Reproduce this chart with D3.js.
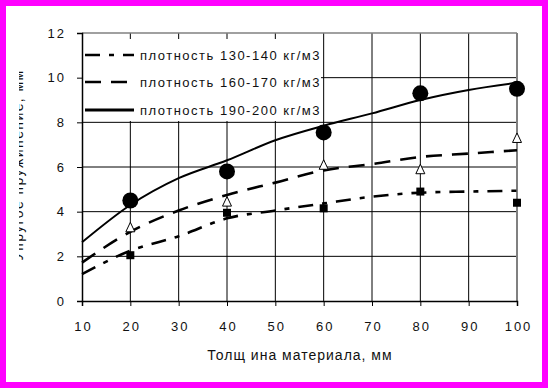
<!DOCTYPE html>
<html>
<head>
<meta charset="utf-8">
<script src="https://cdn.jsdelivr.net/npm/d3@7"></script>
<style>
  body { margin: 0; background: #ff00ff; }
  text { font-family: "Liberation Sans", Arial, sans-serif; fill: #111; }
</style>
</head>
<body>
<svg id="chart" width="548" height="388"></svg>
<script>
// values
var xTicks = [10, 20, 30, 40, 50, 60, 70, 80, 90, 100];
var yTicks = [0, 2, 4, 6, 8, 10, 12];
var pointX = [20, 40, 60, 80, 100];
var pts130 = [2.05, 3.95, 4.15, 4.9, 4.4];
var pts160 = [3.3, 4.45, 6.1, 5.9, 7.3];
var pts190 = [4.5, 5.8, 7.55, 9.3, 9.5];
var curveX = [10, 20, 30, 40, 50, 60, 70, 80, 90, 100];
var fit130 = [1.2, 2.25, 2.9, 3.7, 4.05, 4.37, 4.67, 4.85, 4.9, 4.94];
var fit160 = [1.72, 3.1, 4.05, 4.75, 5.3, 5.85, 6.13, 6.45, 6.6, 6.75];
var fit190 = [2.63, 4.3, 5.5, 6.3, 7.2, 7.85, 8.4, 9.0, 9.45, 9.77];
var legendLabels = ["плотность 130-140 кг/м3", "плотность 160-170 кг/м3", "плотность 190-200 кг/м3"];
var xTitle = "Толщ ина материала, мм";
var yTitle = "Упругое пружинение, мм";

var svg = d3.select("#chart");
var plotL = 82, plotR = 517, plotT = 33, plotB = 301;

svg.append("rect").attr("x", 6).attr("y", 6).attr("width", 536).attr("height", 376).attr("fill", "#fff");

var x = d3.scaleLinear().domain([10, 100]).range([plotL, plotR]);
var y = d3.scaleLinear().domain([0, 12]).range([plotB, plotT]);

// grid
var grid = svg.append("g");
grid.selectAll(".vg").data(xTicks.slice(1, -1)).enter().append("line")
  .attr("x1", function(d) { return x(d); }).attr("x2", function(d) { return x(d); })
  .attr("y1", plotT).attr("y2", plotB).attr("stroke", "#000").attr("stroke-width", 1);
grid.selectAll(".hg").data(yTicks.slice(1, -1)).enter().append("line")
  .attr("x1", plotL).attr("x2", plotR)
  .attr("y1", function(d) { return y(d); }).attr("y2", function(d) { return y(d); })
  .attr("stroke", "#000").attr("stroke-width", 1);

// legend background hides the grid
svg.append("rect").attr("x", plotL + 1).attr("y", 39).attr("width", 238).attr("height", 82).attr("fill", "#fff");

// frame
svg.append("line").attr("x1", plotL).attr("x2", plotR).attr("y1", plotT).attr("y2", plotT)
  .attr("stroke", "#808080").attr("stroke-width", 1.5);
svg.append("line").attr("x1", plotR).attr("x2", plotR).attr("y1", plotT).attr("y2", plotB)
  .attr("stroke", "#808080").attr("stroke-width", 2);

// axes
var xAxis = svg.append("g").attr("transform", "translate(0," + plotB + ")")
  .call(d3.axisBottom(x).tickValues(xTicks).tickSize(5).tickPadding(16));
var yAxis = svg.append("g").attr("transform", "translate(" + plotL + ",0)")
  .call(d3.axisLeft(y).tickValues(yTicks).tickSize(5).tickPadding(11));
[xAxis, yAxis].forEach(function(a) {
  a.select(".domain").attr("stroke", "#000").attr("stroke-width", 1.5);
  a.selectAll(".tick line").attr("stroke", "#000");
  a.selectAll("text").attr("font-size", 13).attr("font-family", "Liberation Sans, Arial, sans-serif")
    .attr("fill", "#111").style("letter-spacing", "2px");
});
xAxis.selectAll("text").attr("dx", "1px");

// titles
svg.append("text").attr("x", 300).attr("y", 360).attr("text-anchor", "middle")
  .attr("font-size", 14).style("letter-spacing", "1px").text(xTitle);
svg.append("clipPath").attr("id", "yclip").append("rect")
  .attr("x", 19).attr("y", 0).attr("width", 60).attr("height", 388);
svg.append("g").attr("clip-path", "url(#yclip)").append("text")
  .attr("transform", "translate(22.5,165) rotate(-90)").attr("text-anchor", "middle")
  .attr("font-size", 14).style("letter-spacing", "1.4px").text(yTitle);

// fitted curves
var line = d3.line().x(function(d) { return x(d[0]); }).y(function(d) { return y(d[1]); })
  .curve(d3.curveMonotoneX);
var styles = [
  { dash: "15,9,5,9", width: 2.6 },
  { dash: "16,10", width: 2.6 },
  { dash: null, width: 2 }
];
[fit130, fit160, fit190].forEach(function(vals, i) {
  svg.append("path").datum(curveX.map(function(cx, j) { return [cx, vals[j]]; }))
    .attr("d", line).attr("fill", "none").attr("stroke", "#000")
    .attr("stroke-width", styles[i].width)
    .attr("stroke-dasharray", styles[i].dash);
});

// markers
svg.selectAll(".sq").data(pts130).enter().append("rect")
  .attr("x", function(d, i) { return x(pointX[i]) - 4; })
  .attr("y", function(d) { return y(d) - 4; })
  .attr("width", 8).attr("height", 8).attr("fill", "#000");
svg.selectAll(".tri").data(pts160).enter().append("path")
  .attr("transform", function(d, i) { return "translate(" + x(pointX[i]) + "," + y(d) + ")"; })
  .attr("d", "M0,-5L4.5,4.5L-4.5,4.5Z").attr("fill", "#fff").attr("stroke", "#000").attr("stroke-width", 1);
svg.selectAll(".dot").data(pts190).enter().append("circle")
  .attr("cx", function(d, i) { return x(pointX[i]); })
  .attr("cy", function(d) { return y(d); })
  .attr("r", 8).attr("fill", "#000");

// legend
var legY = [55, 82, 110];
var legW = [2.6, 2.6, 3];
legendLabels.forEach(function(lbl, i) {
  svg.append("line").attr("x1", 85).attr("x2", 134).attr("y1", legY[i]).attr("y2", legY[i])
    .attr("stroke", "#000").attr("stroke-width", legW[i]).attr("stroke-dasharray", styles[i].dash);
  svg.append("text").attr("x", 140).attr("y", legY[i] + 5).attr("font-size", 13)
    .style("letter-spacing", "1.5px").text(lbl);
});
</script>
</body>
</html>
